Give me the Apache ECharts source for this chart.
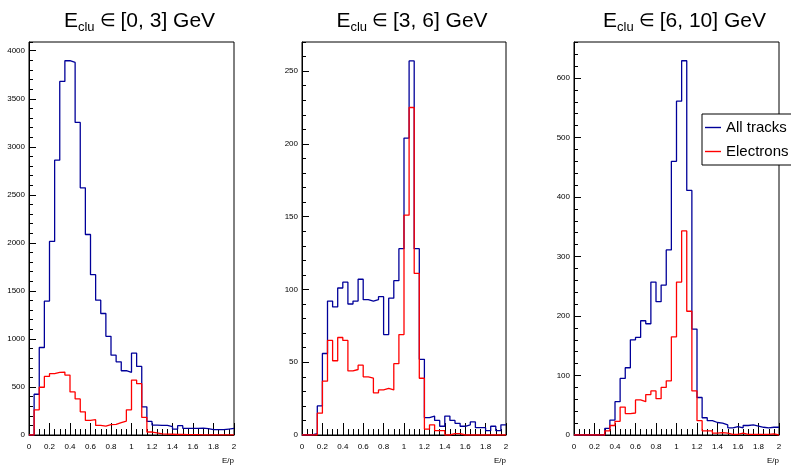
<!DOCTYPE html>
<html>
<head>
<meta charset="utf-8">
<script src="https://cdn.jsdelivr.net/npm/echarts@6/dist/echarts.min.js"></script>
<style>
  html, body { margin: 0; padding: 0; background: #fff; }
  #container { width: 791px; height: 466px; }
</style>
</head>
<body>
<div id="container"></div>
<script>
// E/p binning (40 bins of 0.05 from 0 to 2)
var binWidth = 0.05;
var xMin = 0;
var xMax = 2;
var xTicks = 0.2;

var panelTitles = ['[0, 3]', '[3, 6]', '[6, 10]'];
var seriesNames = ['All tracks', 'Electrons'];

// E_clu in [0, 3] GeV
var allTracks1 = [0, 424, 911, 1394, 2015, 2861, 3681, 3896, 3878, 3254,
                  2573, 2087, 1669, 1403, 1265, 1027, 831, 762, 669, 652,
                  852, 714, 293, 141, 103, 100, 100, 86, 62, 97,
                  69, 69, 69, 72, 66, 55, 55, 55, 62, 69];
var electrons1 = [0, 262, 497, 610, 638, 652, 655, 624, 448, 376,
                  241, 152, 159, 100, 93, 107, 110, 128, 145, 262,
                  572, 534, 183, 31, 21, 12, 10, 8, 5, 5,
                  4, 3, 3, 2, 2, 2, 1, 1, 1, 1];

// E_clu in [3, 6] GeV
var allTracks2 = [0, 0, 1, 20, 56, 92, 88, 101, 105, 90,
                  92, 107, 93, 92, 93, 95, 69, 94, 106, 128,
                  204, 257, 128, 52, 12, 13, 10, 6, 13, 10,
                  8, 6, 7, 9, 5, 5, 3, 6, 3, 7];
var electrons2 = [0, 0, 0, 15, 37, 65, 51, 67, 65, 44,
                  45, 48, 40, 39, 29, 31, 32, 31, 49, 69,
                  151, 225, 111, 39, 4, 7, 3, 3, 0, 1,
                  1, 0, 0, 0, 0, 0, 0, 0, 0, 0];

// E_clu in [6, 10] GeV
var allTracks3 = [0, 0, 0, 0, 0, 0, 11, 25, 56, 95,
                  113, 160, 164, 192, 187, 257, 224, 252, 311, 460,
                  561, 629, 411, 178, 63, 29, 24, 21, 20, 17,
                  12, 14, 12, 16, 17, 15, 13, 12, 13, 13];
var electrons3 = [0, 0, 0, 0, 0, 0, 7, 16, 23, 47,
                  36, 37, 59, 56, 68, 74, 61, 80, 91, 165,
                  257, 343, 208, 74, 24, 7, 7, 3, 4, 3,
                  1, 1, 3, 1, 1, 1, 1, 1, 2, 0];

// y ranges: max, major tick step, minor tick step
var yMax = [4091, 270, 660.5];
var yMajor = [500, 50, 100];
var yMinor = [100, 10, 20];

var FONT = 'Liberation Sans, Arial, Helvetica, sans-serif';
var BLUE = '#000099';
var RED = '#ff0000';

// panel frames in pixels
var frames = [
    {left: 29, width: 205},
    {left: 302, width: 204},
    {left: 574, width: 205}
];
var frameTop = 42;
var frameHeight = 393;

function histData(values)
{
    var pts = [];
    for (var i = 0; i < values.length; i++) {
        pts.push([xMin + i * binWidth, values[i]]);
    }
    pts.push([xMax, values[values.length - 1]]);
    return pts;
}

function showChart()
{
    var chart = echarts.init(document.getElementById('container'), null, {renderer: 'canvas'});
    var allTracks = [allTracks1, allTracks2, allTracks3];
    var electrons = [electrons1, electrons2, electrons3];

    var grids = [], xAxes = [], yAxes = [], series = [], titles = [];

    for (var p = 0; p < 3; p++) {
        var f = frames[p];
        grids.push({
            left: f.left, top: frameTop, width: f.width, height: frameHeight,
            show: true, borderColor: '#000', borderWidth: 1, containLabel: false
        });
        titles.push({
            text: '{e|E}{s|clu}{m| \u2208 }{e|' + panelTitles[p] + ' GeV}',
            left: f.left + f.width / 2 + 3,
            top: 4,
            textAlign: 'center',
            textStyle: {
                fontWeight: 'normal',
                rich: {
                    e: {fontSize: 21, fontFamily: FONT, fontWeight: 'normal', color: '#000', lineHeight: 25},
                    m: {fontSize: 18, fontFamily: FONT, fontWeight: 'normal', color: '#000', lineHeight: 25},
                    s: {fontSize: 13, fontFamily: FONT, fontWeight: 'normal', color: '#000', lineHeight: 25, verticalAlign: 'bottom'}
                }
            }
        });
        xAxes.push({
            gridIndex: p, type: 'value', min: xMin, max: xMax, interval: xTicks,
            name: 'E/p', nameLocation: 'end', nameGap: 0,
            nameTextStyle: {fontSize: 8, fontFamily: FONT, color: '#000', align: 'right', verticalAlign: 'top', padding: [22, 0, 0, 0]},
            axisLine: {show: true, onZero: false, lineStyle: {color: '#000', width: 1}},
            axisTick: {show: true, inside: true, length: 12, lineStyle: {color: '#000', width: 1}},
            minorTick: {show: true, splitNumber: 4, length: 6, lineStyle: {color: '#000', width: 1}},
            axisLabel: {fontSize: 8, fontFamily: FONT, color: '#000', margin: 8, hideOverlap: false},
            splitLine: {show: false}, minorSplitLine: {show: false}
        });
        // major y axis with labels
        var major = yMajor[p];
        yAxes.push({
            gridIndex: p, type: 'value', position: 'left', min: 0, max: yMax[p], interval: major,
            axisLine: {show: true, onZero: false, lineStyle: {color: '#000', width: 1}},
            axisTick: {show: true, inside: true, length: 7, lineStyle: {color: '#000', width: 1}},
            axisLabel: {
                fontSize: 8, fontFamily: FONT, color: '#000', margin: 4, hideOverlap: false,
                showMaxLabel: false,
                formatter: (function(m) {
                    return function(v) { return (Math.abs(v % m) < 1e-6) ? String(v) : ''; };
                })(major)
            },
            splitLine: {show: false}
        });
        // minor y ticks on their own axis
        yAxes.push({
            gridIndex: p, type: 'value', position: 'left', offset: 0, min: 0, max: yMax[p], interval: yMinor[p],
            axisLine: {show: false},
            axisTick: {show: true, inside: true, length: 4, lineStyle: {color: '#000', width: 1}},
            axisLabel: {show: false},
            splitLine: {show: false}
        });

        series.push({
            name: seriesNames[0], type: 'line', step: 'end', symbol: 'none',
            xAxisIndex: p, yAxisIndex: p * 2,
            lineStyle: {color: BLUE, width: 1.3}, itemStyle: {color: BLUE},
            data: histData(allTracks[p]), z: 3
        });
        series.push({
            name: seriesNames[1], type: 'line', step: 'end', symbol: 'none',
            xAxisIndex: p, yAxisIndex: p * 2,
            lineStyle: {color: RED, width: 1.3}, itemStyle: {color: RED},
            data: histData(electrons[p]), z: 4
        });
    }

    chart.setOption({
        animation: false,
        backgroundColor: '#fff',
        title: titles,
        legend: {
            data: seriesNames,
            orient: 'vertical',
            left: 702, top: 114,
            icon: 'rect',
            itemWidth: 16, itemHeight: 1.4, itemGap: 7,
            padding: [5, 12, 5, 3],
            borderColor: '#000', borderWidth: 1, borderRadius: 0,
            backgroundColor: '#fff',
            textStyle: {fontSize: 15, fontFamily: FONT, color: '#000', lineHeight: 17}
        },
        grid: grids,
        xAxis: xAxes,
        yAxis: yAxes,
        series: series
    });
}

showChart();
</script>
</body>
</html>
